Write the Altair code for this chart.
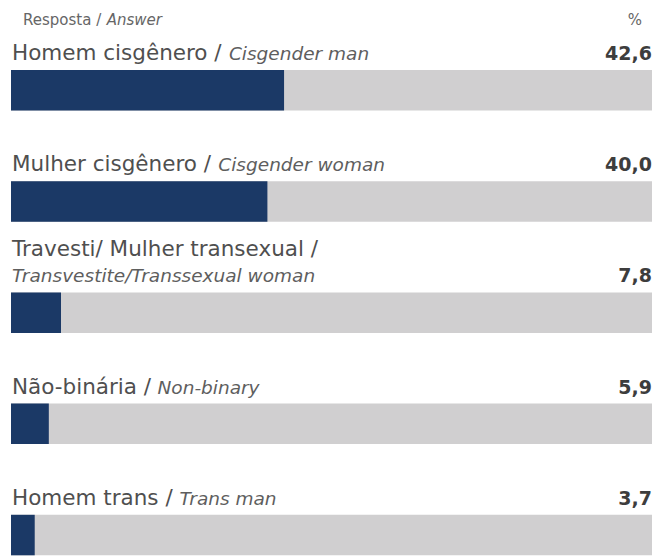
import unicodedata
import altair as alt
import pandas as pd

# ---- data ----
answers_pt = ["Homem cisgênero /", "Mulher cisgênero /", "Travesti/ Mulher transexual /",
              "Não-binária /", "Homem trans /"]
answers_en = ["Cisgender man", "Cisgender woman", "Transvestite/Transsexual woman",
              "Non-binary", "Trans man"]
wrap_line = [False, False, True, False, False]
percent = [42.6, 40.0, 7.8, 5.9, 3.7]
header_pt = "Resposta /"
header_en = "Answer"
header_unit = "%"

# ---- layout / style constants ----
FONT = "DejaVu Sans"
W, H = 641, 556
STEP = H / 5
BAR_TOP, BAR_H = 62, 40.5
PT_SIZE, EN_SIZE, VAL_SIZE, HEAD_SIZE = 21.5, 18.5, 19, 15
BLUE, GREY = "#1b3966", "#d0cfd0"

ADV = {" ": 651, ",": 651, "-": 739, ".": 651, "/": 690, "%": 1946,
       "A": 1401, "B": 1405, "C": 1430, "D": 1577, "E": 1294, "F": 1178, "G": 1587,
       "H": 1540, "I": 604, "J": 604, "K": 1343, "L": 1141, "M": 1767, "N": 1532,
       "O": 1612, "P": 1235, "Q": 1612, "R": 1423, "S": 1300, "T": 1251, "U": 1499,
       "V": 1401, "W": 2025, "X": 1403, "Y": 1251, "Z": 1403,
       "a": 1255, "b": 1300, "c": 1126, "d": 1300, "e": 1260, "f": 721, "g": 1300,
       "h": 1298, "i": 569, "j": 569, "k": 1186, "l": 569, "m": 1995, "n": 1298,
       "o": 1253, "p": 1300, "q": 1300, "r": 842, "s": 1067, "t": 803, "u": 1298,
       "v": 1212, "w": 1675, "x": 1212, "y": 1212, "z": 1075}


def text_width(s, size):
    tot = 0
    for ch in s:
        base = unicodedata.normalize("NFD", ch)[0]
        tot += ADV.get(base, 1250)
    return tot / 2048 * size


def px_to_x(px):
    return px / W * 100


rows = list(range(len(percent)))
df = pd.DataFrame({"pt": answers_pt, "en": answers_en, "wrap": wrap_line,
                   "value": percent, "row": rows})
df["base"] = 0.0
df["full"] = 100.0
df["y0"] = df["row"] + BAR_TOP / STEP
df["y1"] = df["row"] + (BAR_TOP + BAR_H) / STEP
df["y_en"] = df["row"] + (BAR_TOP - 10) / STEP
df["y_pt"] = df["row"] + (BAR_TOP - df["wrap"].map({True: 36, False: 10})) / STEP
df["x_pt"] = px_to_x(1)
df["x_en"] = [px_to_x(1) if w else px_to_x(1 + text_width(p + " ", PT_SIZE))
              for p, w in zip(df["pt"], df["wrap"])]

head = pd.DataFrame({
    "txt": [header_pt, header_en, header_unit],
    "x": [px_to_x(12), px_to_x(12 + text_width(header_pt + " ", HEAD_SIZE)), px_to_x(631)],
    "y": [17 / STEP] * 3,
    "kind": ["pt", "en", "unit"],
})

xs = alt.Scale(domain=[0, 100], nice=False, zero=False)
ys = alt.Scale(domain=[0, 5], nice=False, zero=False, reverse=True)

base = alt.Chart(df)
bg = base.mark_bar(color=GREY).encode(
    x=alt.X("base:Q", scale=xs, axis=None), x2="full:Q",
    y=alt.Y("y0:Q", scale=ys, axis=None), y2="y1:Q")
fg = base.mark_bar(color=BLUE).encode(
    x=alt.X("base:Q", scale=xs, axis=None), x2="value:Q",
    y=alt.Y("y0:Q", scale=ys, axis=None), y2="y1:Q")
pt_txt = base.mark_text(align="left", baseline="alphabetic", font=FONT,
                        fontSize=PT_SIZE, color="#4f4f4f").encode(
    x=alt.X("x_pt:Q", scale=xs, axis=None), y=alt.Y("y_pt:Q", scale=ys, axis=None),
    text="pt:N")
en_txt = base.mark_text(align="left", baseline="alphabetic", font=FONT,
                        fontSize=EN_SIZE, fontStyle="italic", color="#5e5e5e").encode(
    x=alt.X("x_en:Q", scale=xs, axis=None), y=alt.Y("y_en:Q", scale=ys, axis=None),
    text="en:N")
val_txt = base.transform_calculate(
    vlabel="replace(format(datum.value, '.1f'), '.', ',')"
).mark_text(align="right", baseline="alphabetic", font=FONT, fontSize=VAL_SIZE,
            fontWeight="bold", color="#3d3d3d").encode(
    x=alt.X("full:Q", scale=xs, axis=None), y=alt.Y("y_en:Q", scale=ys, axis=None),
    text="vlabel:N")

hbase = alt.Chart(head)
h_pt = hbase.transform_filter("datum.kind == 'pt'").mark_text(
    align="left", baseline="alphabetic", font=FONT, fontSize=HEAD_SIZE, color="#666666"
).encode(x=alt.X("x:Q", scale=xs, axis=None), y=alt.Y("y:Q", scale=ys, axis=None), text="txt:N")
h_en = hbase.transform_filter("datum.kind == 'en'").mark_text(
    align="left", baseline="alphabetic", font=FONT, fontSize=HEAD_SIZE, fontStyle="italic",
    color="#666666"
).encode(x=alt.X("x:Q", scale=xs, axis=None), y=alt.Y("y:Q", scale=ys, axis=None), text="txt:N")
h_unit = hbase.transform_filter("datum.kind == 'unit'").mark_text(
    align="right", baseline="alphabetic", font=FONT, fontSize=HEAD_SIZE, color="#666666"
).encode(x=alt.X("x:Q", scale=xs, axis=None), y=alt.Y("y:Q", scale=ys, axis=None), text="txt:N")

chart = alt.layer(bg, fg, pt_txt, en_txt, val_txt, h_pt, h_en, h_unit).properties(
    width=W, height=H, padding={"left": 3, "right": 0, "top": 0, "bottom": 0}
).configure_view(stroke=None)

chart.save("out.html", embed_options={"renderer": "svg", "actions": False})
